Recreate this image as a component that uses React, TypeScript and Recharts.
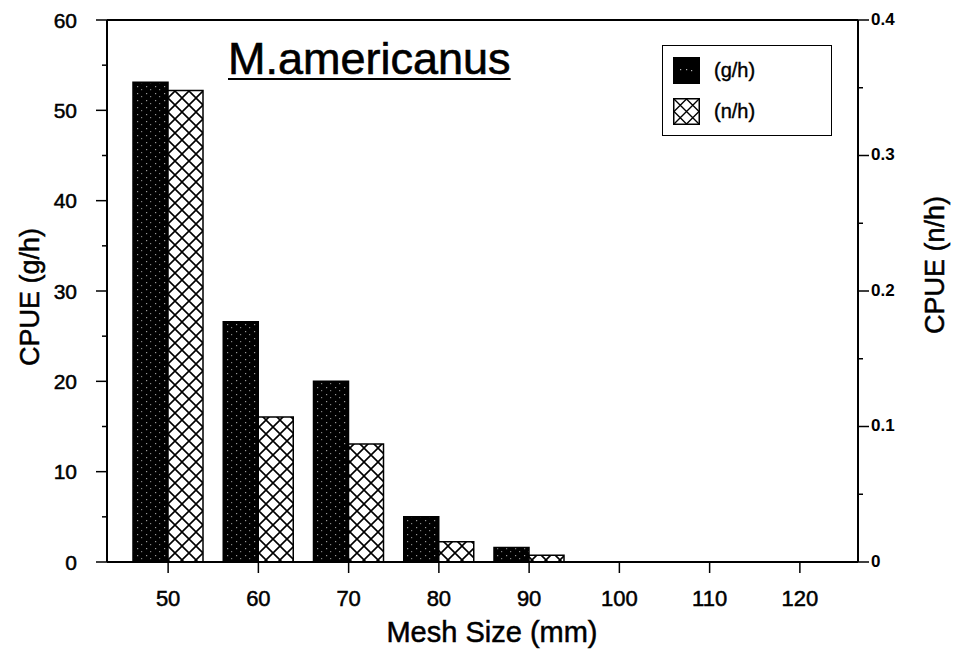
import React from "react";
import { BarChart, Bar, XAxis, YAxis, ReferenceLine, Legend } from "recharts";

const meshSizes = ["50", "60", "70", "80", "90", "100", "110", "120"];
const cpueWeight = [53.1, 26.6, 20.0, 5.0, 1.6, 0, 0, 0]; // g/h
const cpueNumber = [0.348, 0.107, 0.087, 0.015, 0.005, 0, 0, 0]; // n/h
const weightTicks = [0, 5, 10, 15, 20, 25, 30, 35, 40, 45, 50, 55, 60];
const numberTicks = [0, 0.05, 0.1, 0.15, 0.2, 0.25, 0.3, 0.35, 0.4];

const data = meshSizes.map((mesh, i) => ({
  mesh,
  gh: cpueWeight[i],
  nh: cpueNumber[i],
}));

const FONT = '"Liberation Sans", Arial, Helvetica, sans-serif';
const INK = "#000";
// a thin outline thickens the glyphs a little, like a photocopied figure
const heavy = { stroke: INK, strokeWidth: 0.5 };

function LeftTick({ x, y, payload, index }: any) {
  const major = index % 2 === 0;
  return (
    <g>
      <line x1={x - (major ? 11 : 5)} x2={x} y1={y} y2={y} stroke={INK} strokeWidth={1.5} />
      {major && (
        <text x={x - 30} y={y} textAnchor="end" dominantBaseline="central" fontSize={21} fontFamily={FONT} fill={INK} {...heavy}>
          {payload.value}
        </text>
      )}
    </g>
  );
}

function RightTick({ x, y, payload, index }: any) {
  const major = index % 2 === 0;
  return (
    <g>
      <line x1={x} x2={x + (major ? 11 : 5)} y1={y} y2={y} stroke={INK} strokeWidth={1.5} />
      {major && (
        <text x={x + 13} y={y - 1} textAnchor="start" dominantBaseline="central" fontSize={17} fontWeight="bold" fontFamily={FONT} fill={INK}>
          {payload.value}
        </text>
      )}
    </g>
  );
}

function BottomTick({ x, y, payload }: any) {
  return (
    <g>
      <line x1={x} x2={x} y1={y} y2={y + 11} stroke={INK} strokeWidth={1.5} />
      <text x={x} y={y + 36} textAnchor="middle" dominantBaseline="central" fontSize={22} fontFamily={FONT} fill={INK} {...heavy}>
        {payload.value}
      </text>
    </g>
  );
}

function Swatch({ kind }: { kind: string }) {
  return (
    <svg width={27} height={27} style={{ display: "block" }}>
      {kind === "gh" ? (
        <>
          <rect x={0.75} y={0.75} width={25.5} height={25.5} fill={INK} stroke={INK} strokeWidth={1.5} />
          <rect x={7} y={12} width={1.2} height={1.2} fill="#fff" opacity={0.7} />
          <rect x={13} y={12} width={1.2} height={1.2} fill="#fff" opacity={0.7} />
          <rect x={18} y={13} width={1.2} height={1.2} fill="#fff" opacity={0.7} />
        </>
      ) : (
        <>
          <rect x={0.75} y={0.75} width={25.5} height={25.5} fill="#fff" stroke={INK} strokeWidth={1.5} />
          <path
            d="M1 1 L26 26 M26 1 L1 26 M13.5 1 L1 13.5 M13.5 1 L26 13.5 M1 13.5 L13.5 26 M26 13.5 L13.5 26"
            stroke={INK}
            strokeWidth={1.4}
            fill="none"
          />
        </>
      )}
    </svg>
  );
}

function LegendBox({ payload }: any) {
  return (
    <div
      style={{
        border: "1.5px solid #000",
        width: 170,
        height: 91,
        boxSizing: "border-box",
        padding: "11px 0 0 10px",
        fontFamily: FONT,
        fontSize: 20,
        WebkitTextStroke: "0.4px #000",
      }}
    >
      {(payload || []).map((entry: any, i: number) => (
        <div key={i} style={{ display: "flex", alignItems: "center", height: 27, marginBottom: 14 }}>
          <Swatch kind={entry.dataKey} />
          <span style={{ marginLeft: 14 }}>{entry.value}</span>
        </div>
      ))}
    </div>
  );
}

export default function App() {
  return (
    <div style={{ position: "absolute", left: 0, top: 0, width: 953, height: 650, background: "#fff" }}>
      <BarChart
        width={953}
        height={650}
        data={data}
        margin={{ top: 20, right: 0, bottom: 0, left: 0 }}
        barGap={0}
        barSize={35}
      >
        <defs>
          <pattern id="speckle" width={9} height={7} patternUnits="userSpaceOnUse">
            <rect width={9} height={7} fill={INK} />
            <rect x={2} y={2} width={1.2} height={1.2} fill="#fff" opacity={0.6} />
            <rect x={6} y={5} width={1.2} height={1.2} fill="#fff" opacity={0.5} />
          </pattern>
          <pattern id="crosshatch" width={14} height={14} patternUnits="userSpaceOnUse">
            <rect width={14} height={14} fill="#fff" />
            <path d="M0 0 L14 14 M14 0 L0 14" stroke={INK} strokeWidth={1.6} />
          </pattern>
        </defs>
        <XAxis
          dataKey="mesh"
          xAxisId={0}
          height={88}
          padding={{ left: 16, right: 13 }}
          interval={0}
          tickSize={0}
          tickMargin={0}
          tickLine={false}
          axisLine={{ stroke: INK, strokeWidth: 2 }}
          tick={<BottomTick />}
          label={(props: any) => {
            const vb = props.viewBox;
            return (
              <text x={492} y={vb.y + 70} textAnchor="middle" dominantBaseline="central" fontSize={29} fontFamily={FONT} fill={INK} {...heavy}>
                Mesh Size (mm)
              </text>
            );
          }}
        />
        <YAxis
          yAxisId="left"
          orientation="left"
          width={107}
          domain={[0, 60]}
          ticks={weightTicks}
          interval={0}
          tickSize={0}
          tickMargin={0}
          tickLine={false}
          axisLine={{ stroke: INK, strokeWidth: 2 }}
          tick={<LeftTick />}
          label={(props: any) => {
            const vb = props.viewBox;
            const cx = vb.x + 30;
            const cy = vb.y + vb.height / 2 + 6;
            return (
              <text x={cx} y={cy} transform={`rotate(-90, ${cx}, ${cy})`} textAnchor="middle" dominantBaseline="central" fontSize={27} fontFamily={FONT} fill={INK} {...heavy}>
                CPUE (g/h)
              </text>
            );
          }}
        />
        <YAxis
          yAxisId="right"
          orientation="right"
          width={95}
          domain={[0, 0.4]}
          ticks={numberTicks}
          interval={0}
          tickSize={0}
          tickMargin={0}
          tickLine={false}
          axisLine={{ stroke: INK, strokeWidth: 2 }}
          tick={<RightTick />}
          label={(props: any) => {
            const vb = props.viewBox;
            const cx = vb.x + 77;
            const cy = 265;
            return (
              <text x={cx} y={cy} transform={`rotate(-90, ${cx}, ${cy})`} textAnchor="middle" dominantBaseline="central" fontSize={27} fontFamily={FONT} fill={INK} {...heavy}>
                CPUE (n/h)
              </text>
            );
          }}
        />
        <ReferenceLine yAxisId="left" y={60} stroke={INK} strokeWidth={2} />
        <Legend
          layout="vertical"
          align="center"
          verticalAlign="middle"
          content={<LegendBox />}
          wrapperStyle={{ top: 45, left: 662, width: 170 }}
        />
        <Bar
          yAxisId="left"
          dataKey="gh"
          name="(g/h)"
          fill="url(#speckle)"
          stroke={INK}
          strokeWidth={1.5}
          isAnimationActive={false}
        />
        <Bar
          yAxisId="right"
          dataKey="nh"
          name="(n/h)"
          fill="url(#crosshatch)"
          stroke={INK}
          strokeWidth={1.5}
          isAnimationActive={false}
        />
      </BarChart>
      <div
        style={{
          position: "absolute",
          left: 228,
          top: 36,
          fontFamily: FONT,
          fontSize: 45,
          lineHeight: "45px",
          textDecoration: "underline",
          textDecorationThickness: 2,
          textUnderlineOffset: 4,
          whiteSpace: "nowrap",
          WebkitTextStroke: "0.6px #000",
        }}
      >
        M.americanus
      </div>
    </div>
  );
}
